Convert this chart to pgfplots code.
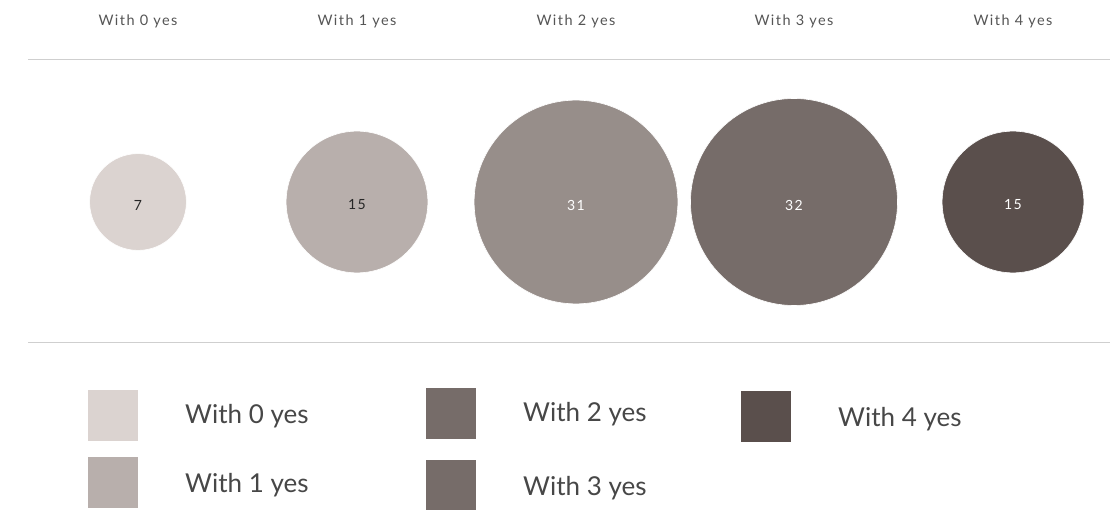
\documentclass[border=0pt]{standalone}
\usepackage{fontspec}
\setmainfont{Lato}
\newfontfamily\titlefont[LetterSpace=10]{Lato}
\usepackage{pgfplots}
\pgfplotsset{compat=1.18}
\definecolor{c0}{HTML}{DBD3D0}
\definecolor{c1}{HTML}{B8AFAC}
\definecolor{c2}{HTML}{978E8A}
\definecolor{c3}{HTML}{766C69}
\definecolor{c4}{HTML}{5A4F4C}
\definecolor{rule}{HTML}{CFCFCF}
\definecolor{ttext}{HTML}{555555}
\definecolor{ltext}{HTML}{474747}
\pgfplotsset{
  bubble/.style={
    nodes near coords,
    every node near coord/.style={anchor=center, yshift=-3pt, font=\titlefont\fontsize{14}{14}\selectfont},
    point meta=explicit,
    scatter, only marks, mark=*,
    mark options={fill=#1, draw=white, line width=0.6pt},
    visualization depends on={18.3*sqrt(\thisrow{v}) \as \bubr},
    scatter/@pre marker code/.append style={/tikz/mark size=\bubr, /tikz/fill=#1, /tikz/draw=white}}
}
\begin{document}
\begin{tikzpicture}
\begin{axis}[width=1120pt, height=510pt, scale only axis,
  xmin=0, xmax=1120, ymin=0, ymax=510, y dir=reverse,
  axis lines=none, clip=false,
  /pgf/number format/assume math mode=true]
\path (axis cs:0,0) rectangle (axis cs:1120,510);
% rules
\draw[rule, line width=1pt] (axis cs:28,60) -- (axis cs:1110,60);
\draw[rule, line width=1pt] (axis cs:28,343) -- (axis cs:1110,343);
% titles
\begin{scope}[every node/.style={font=\titlefont\fontsize{14.5}{14.5}\selectfont, text=ttext}]
\node at (axis cs:138,21) {With 0 yes};
\node at (axis cs:357,21) {With 1 yes};
\node at (axis cs:576,21) {With 2 yes};
\node at (axis cs:794,21) {With 3 yes};
\node at (axis cs:1013,21) {With 4 yes};
\end{scope}
% bubbles
\addplot[bubble=c0, every node near coord/.append style={text=black!85}] table[x=x, y=y, meta=v] {
x y v
138 202 7
};
\addplot[bubble=c1, every node near coord/.append style={text=black!85}] table[x=x, y=y, meta=v] {
x y v
357 202 15
};
\addplot[bubble=c2, every node near coord/.append style={text=white}] table[x=x, y=y, meta=v] {
x y v
576 202 31
};
\addplot[bubble=c3, every node near coord/.append style={text=white}] table[x=x, y=y, meta=v] {
x y v
794 202 32
};
\addplot[bubble=c4, every node near coord/.append style={text=white}] table[x=x, y=y, meta=v] {
x y v
1013 202 15
};
% legend
\fill[c0] (axis cs:88,390) rectangle (axis cs:138,441);
\fill[c1] (axis cs:88,457) rectangle (axis cs:138,508);
\fill[c3] (axis cs:426,388) rectangle (axis cs:476,439);
\fill[c3] (axis cs:426,460) rectangle (axis cs:476,510);
\fill[c4] (axis cs:741,391) rectangle (axis cs:791,442);
\begin{scope}[every node/.style={anchor=west, inner sep=0pt, text=ltext, font=\fontsize{26}{26}\selectfont}]
\node at (axis cs:185,416) {With 0 yes};
\node at (axis cs:185,485) {With 1 yes};
\node at (axis cs:523,414) {With 2 yes};
\node at (axis cs:523,488) {With 3 yes};
\node at (axis cs:838,419) {With 4 yes};
\end{scope}
\end{axis}
\end{tikzpicture}
\end{document}
